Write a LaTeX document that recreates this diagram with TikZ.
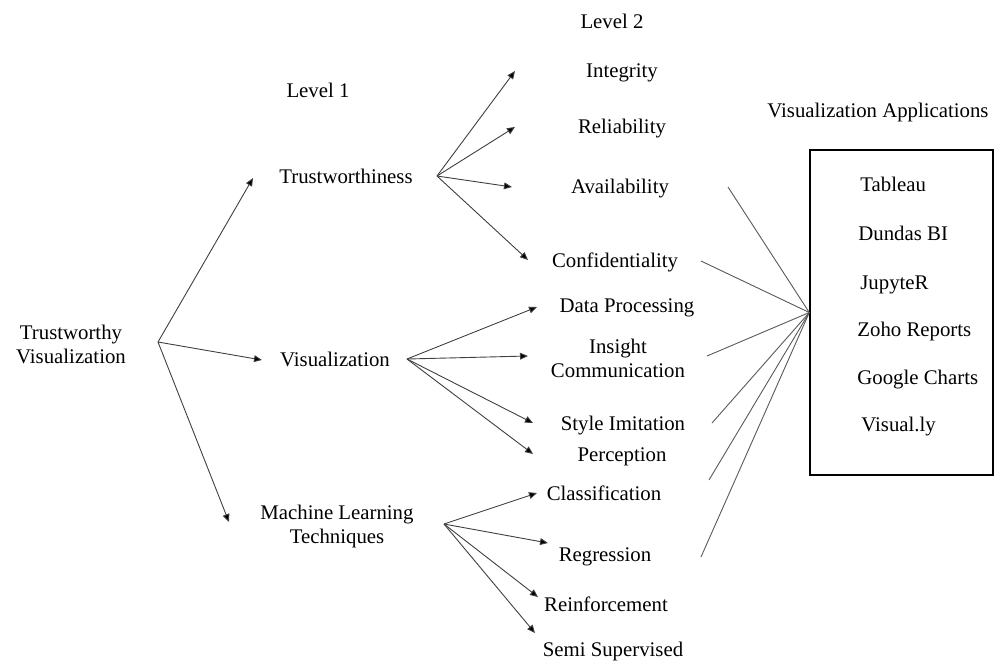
\documentclass[tikz,border=0pt]{standalone}
\usepackage{fontspec}
\setmainfont{Liberation Serif}
\usetikzlibrary{arrows.meta}

\begin{document}
\begin{tikzpicture}[
            x=0.5pt, y=-0.5pt,
            font=\fontsize{10.4}{12}\selectfont,
            tv label/.style ={inner sep=0pt, text height=0.7em, text depth=0.15em},
            tv multi/.style ={inner sep=0pt, align=center},
            tv arrow/.style ={draw=black!75, line width=0.45pt,
                              -{Triangle[length=4pt, width=3.4pt, fill=black]}},
            tv link/.style  ={draw=black!65, line width=0.45pt},
            tv box/.style   ={draw, line width=0.7pt, inner sep=0pt,
                              minimum width=91.5pt, minimum height=162.5pt}
        ]
        \useasboundingbox (0,0) rectangle (998,661);
        %% --- Headings ---------------------------------------------------------
        \node[tv label] (lev1) at (318,92)  {Level 1};
        \node[tv label] (lev2) at (612,23)  {Level 2};
        \node[tv label] (appt) at (878,112) {Visualization Applications};
        %% --- Root and level 1 -------------------------------------------------
        \node[tv multi] (root) at (71,344)  {Trustworthy\\Visualization};
        \node[tv label] (tw)   at (346,178) {Trustworthiness};
        \node[tv label] (vis)  at (335,361) {Visualization};
        \node[tv multi] (ml)   at (337,526) {Machine Learning\\Techniques};
        \coordinate (root-o) at (158,342);
        \coordinate (tw-in)  at (253,178);
        \coordinate (vis-in) at (262,360);
        \coordinate (ml-in)  at (229,522);
        \foreach \n in {tw,vis,ml} {
                \draw[tv arrow] (root-o) -- (\n-in);
            }
        %% --- Level 2 ----------------------------------------------------------
        \foreach \n/\px/\py/\t in {int/622/72/Integrity, rel/622/128/Reliability,
                ava/620/188/Availability, con/615/262/Confidentiality,
                dat/627/307/Data Processing, sty/623/425/Style Imitation,
                per/622/456/Perception, cla/604/495/Classification,
                reg/605/556/Regression, rei/606/606/Reinforcement,
                sem/613/651/Semi Supervised} {
                \node[tv label] (\n) at (\px,\py) {\t};
            }
        \node[tv multi] (ins) at (618,358) {Insight\\Communication};
        % fan origins and arrow tips
        \coordinate (tw-o)  at (437,176);
        \coordinate (vis-o) at (407,359);
        \coordinate (ml-o)  at (444,524);
        \foreach \n/\px/\py in {int/515/71, rel/515/127, ava/512/187, con/528/260,
                dat/537/307, ins/528/356, sty/533/423, per/533/454,
                cla/537/493, reg/548/543, rei/538/597, sem/535/633} {
                \coordinate (\n-in) at (\px,\py);
            }
        \foreach \n in {int,rel,ava,con} {
                \draw[tv arrow] (tw-o) -- (\n-in);
            }
        \foreach \n in {dat,ins,sty,per} {
                \draw[tv arrow] (vis-o) -- (\n-in);
            }
        \foreach \n in {cla,reg,rei,sem} {
                \draw[tv arrow] (ml-o) -- (\n-in);
            }
        %% --- Applications box -------------------------------------------------
        \node[tv box] (apps) at (901.5,312.5) {};
        \foreach \n/\px/\py/\t in {tab/860/186/Tableau, dun/858/235/Dundas BI,
                jup/860/284/JupyteR, zoh/857/331/Zoho Reports,
                goo/857/379/Google Charts, vly/861/426/Visual.ly} {
                \node[tv label, anchor=west] (\n) at (\px,\py) {\t};
            }
        \foreach \n/\px/\py in {ava/728/187, con/701/261, ins/707/356,
                sty/712/423, per/709/480, reg/701/557} {
                \coordinate (\n-out) at (\px,\py);
                \draw[tv link] (\n-out) -- (apps.west);
            }
    \end{tikzpicture}
\end{document}
